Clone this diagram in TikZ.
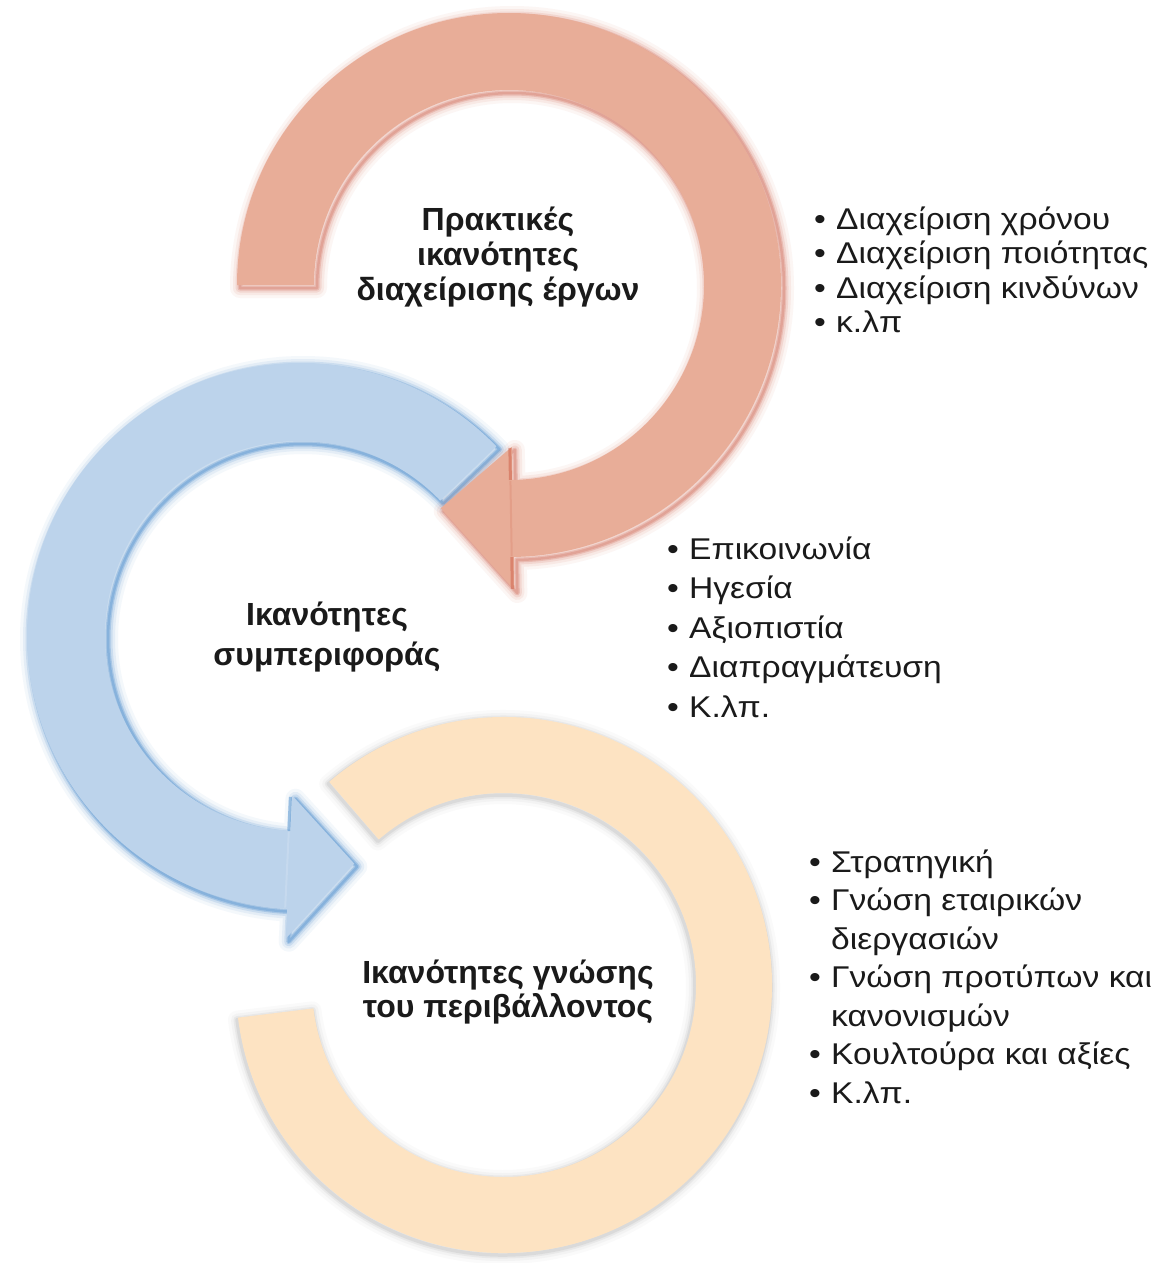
\documentclass[tikz,border=0pt]{standalone}
\usepackage{fontspec}
\setmainfont{Liberation Sans}
\newfontfamily\listfont[FakeStretch=1.12]{Liberation Sans}
\definecolor{redfill}{HTML}{E8AD98}
\definecolor{rededge}{HTML}{C9523A}
\definecolor{bluefill}{HTML}{BCD3EB}
\definecolor{blueedge}{HTML}{2A78C2}
\definecolor{yelfill}{HTML}{FDE3C2}
\definecolor{yeledge}{HTML}{909090}
\definecolor{inktext}{HTML}{1A1A1A}

% ring shapes (image-like coordinates: x right, y down, angles clockwise)
\newcommand\redshape[1]{\path[shift={(509,285)},#1]
  (180:272) arc[start angle=180,end angle=449,radius=272]
  -- (449:305) -- (467:233.5) -- (449:162) -- (449:195)
  arc[start angle=449,end angle=180,radius=195] -- cycle;}
\newcommand\blueshape[1]{\path[shift={(300,636)},#1]
  (-44:273) arc[start angle=-44,end angle=-267.3,radius=273]
  -- (-267.3:303) -- (-283.4:234) -- (-267.3:160) -- (-267.3:195)
  arc[start angle=-267.3,end angle=-44,radius=195] -- cycle;}
\newcommand\yelshape[1]{\path[shift={(504,985)},#1]
  (173:268) arc[start angle=173,end angle=-130.7,radius=268]
  -- (-130.7:192) arc[start angle=-130.7,end angle=173,radius=192] -- cycle;}

\newcommand\itm{\makebox[22pt][l]{•}}
\newcommand\cnt{\hspace*{22pt}}
\newcommand\firstline{\rule{0pt}{30pt}}

\begin{document}
\begin{tikzpicture}[x=1pt,y=-1pt,
  ringtext/.style={align=center,anchor=north,text=inktext,inner sep=0pt,
    font=\bfseries\fontsize{32}{35}\selectfont},
  listtext/.style={align=left,anchor=north west,text=inktext,inner sep=0pt},
  ]
\fill[white] (0,0) rectangle (1164,1263);
\useasboundingbox (0,0) rectangle (1164,1263);

% soft shaded edges, then the fills
\foreach \w/\o in {18/0.04,12/0.06,7/0.1,3.5/0.15}{
  \yelshape{draw=yeledge,line width=\w,opacity=\o,line join=round,shift={(-1,2)}}}
\yelshape{fill=yelfill}

\foreach \w/\o in {20/0.05,14/0.08,9/0.13,5/0.22,2.5/0.25}{
  \blueshape{draw=blueedge,line width=\w,opacity=\o,line join=round,shift={(3,3)}}}
\blueshape{fill=bluefill}
\draw[blueedge,opacity=0.4,line width=3] ([shift={(-267.3:161)}]298,636) -- ([shift={(-267.3:195)}]298,636);
\draw[bluefill!70!white,opacity=0.5,line width=2] ([shift={(-267.3:196)}]298,636) -- ([shift={(-267.3:272)}]298,636);

\foreach \w/\o in {20/0.05,14/0.08,9/0.12,5/0.2,2.5/0.22}{
  \redshape{draw=rededge,line width=\w,opacity=\o,line join=round,shift={(3,3)}}}
\redshape{fill=redfill}
\draw[rededge,opacity=0.45,line width=3] ([shift={(449:163)}]507,285) -- ([shift={(449:195)}]507,285);
\draw[rededge,opacity=0.45,line width=3] ([shift={(449:272)}]507,285) -- ([shift={(449:304)}]507,285);
\draw[rededge!40!redfill,opacity=0.4,line width=2] ([shift={(449:196)}]507,285) -- ([shift={(449:271)}]507,285);

% titles
\node[ringtext] (t1) at (498,200) {\firstline Πρακτικές\\ικανότητες\\διαχείρισης έργων};
\node[ringtext,font=\bfseries\fontsize{32}{40}\selectfont] (t2) at (327,595) {\firstline Ικανότητες\\συμπεριφοράς};
\node[ringtext,font=\bfseries\fontsize{32}{34}\selectfont] (t3) at (508,953) {\firstline Ικανότητες γνώσης\\του περιβάλλοντος};

% bullet lists
\node[listtext,font=\listfont\fontsize{30}{34.5}\selectfont] (l1) at (814,199)
  {\firstline\itm Διαχείριση χρόνου\\\itm Διαχείριση ποιότητας\\\itm Διαχείριση κινδύνων\\\itm κ.λπ};
\node[listtext,font=\listfont\fontsize{30}{39.5}\selectfont] (l2) at (667,529)
  {\firstline\itm Επικοινωνία\\\itm Ηγεσία\\\itm Αξιοπιστία\\\itm Διαπραγμάτευση\\\itm Κ.λπ.};
\node[listtext,font=\listfont\fontsize{30}{38.5}\selectfont] (l3) at (809,842)
  {\firstline\itm Στρατηγική\\\itm Γνώση εταιρικών\\\cnt διεργασιών\\\itm Γνώση προτύπων και\\\cnt κανονισμών\\\itm Κουλτούρα και αξίες\\\itm Κ.λπ.};
\end{tikzpicture}
\end{document}
